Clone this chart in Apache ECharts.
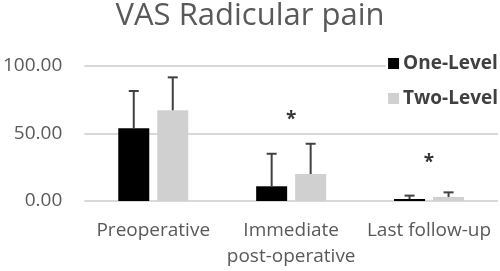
<!DOCTYPE html>
<html>
<head>
<meta charset="utf-8">
<script src="https://cdn.jsdelivr.net/npm/echarts@6/dist/echarts.min.js"></script>
<style>
  html, body { margin: 0; padding: 0; background: #fff; }
  #chart { width: 500px; height: 271px; }
</style>
</head>
<body>
<div id="chart"></div>
<script>
// data
const categories = ['Preoperative', 'Immediate\npost-operative', 'Last follow-up']
const seriesNames = ['One-Level', 'Two-Level']
const oneLevel = [53.8, 10.9, 1.5]
const twoLevel = [67.2, 20.0, 3.0]
// upper end of the error bars
const oneLevelErr = [81.5, 35.0, 4.0]
const twoLevelErr = [91.6, 42.4, 6.4]
// significance marks: [category index, value height]
const stars = [[1, 64.4], [2, 32.6]]
const yTicks = [0, 50, 100]

const BAR_W = 31
const BAR_GAP = 8
const TEXT = '#595959'
const FONT = 'Open Sans'

const chart = echarts.init(document.getElementById('chart'))

function errorSeries (name, means, tops, shift) {
  return {
    type: 'custom',
    name: name + ' err',
    silent: true,
    z: 5,
    data: means.map((m, i) => [i, m, tops[i]]),
    renderItem: function (params, api) {
      const base = api.coord([api.value(0), api.value(1)])
      const top = api.coord([api.value(0), api.value(2)])
      const x = base[0] + shift
      const style = { stroke: '#404040', lineWidth: 2 }
      return {
        type: 'group',
        children: [
          { type: 'line', shape: { x1: x, y1: base[1], x2: x, y2: top[1] }, style: style },
          { type: 'line', shape: { x1: x - 5, y1: top[1], x2: x + 5, y2: top[1] }, style: style }
        ]
      }
    }
  }
}

const shift = (BAR_W + BAR_GAP) / 2

const options = {
  animation: false,
  title: {
    text: 'VAS Radicular pain',
    left: 'center',
    top: -4,
    textStyle: { fontFamily: FONT, fontSize: 31, fontWeight: 'normal', color: TEXT }
  },
  legend: {
    data: seriesNames,
    orient: 'vertical',
    right: 0,
    top: 52,
    icon: 'rect',
    itemWidth: 11,
    itemHeight: 11,
    itemGap: 16,
    padding: [2, 2, 2, 2],
    backgroundColor: '#fff',
    textStyle: { fontFamily: FONT, fontSize: 19, fontWeight: 'bold', color: '#404040', padding: [0, 0, 0, -1] }
  },
  grid: { left: 84, right: 2, top: 66, bottom: 70 },
  xAxis: {
    type: 'category',
    data: categories,
    axisLine: { show: false },
    axisTick: { show: false },
    axisLabel: { interval: 0, fontFamily: FONT, fontSize: 19, color: TEXT, margin: 17, lineHeight: 26 }
  },
  yAxis: {
    type: 'value',
    min: yTicks[0],
    max: yTicks[yTicks.length - 1],
    interval: 50,
    axisLine: { show: false },
    axisTick: { show: false },
    splitLine: { lineStyle: { color: '#d9d9d9', width: 2 } },
    axisLabel: { fontFamily: FONT, fontSize: 19, color: TEXT, margin: 22, formatter: v => v.toFixed(2) }
  },
  series: [
    { name: seriesNames[0], type: 'bar', data: oneLevel, barWidth: BAR_W, barGap: (BAR_GAP / BAR_W * 100) + '%', itemStyle: { color: '#000' } },
    { name: seriesNames[1], type: 'bar', data: twoLevel, barWidth: BAR_W, itemStyle: { color: '#d0d0d0' } },
    errorSeries(seriesNames[0], oneLevel, oneLevelErr, -shift),
    errorSeries(seriesNames[1], twoLevel, twoLevelErr, shift),
    {
      type: 'scatter',
      name: 'sig',
      silent: true,
      symbolSize: 0,
      data: stars,
      label: { show: true, formatter: '*', position: 'inside', offset: [0, 6], fontFamily: FONT, fontSize: 19, fontWeight: 'bold', color: '#000' }
    }
  ]
}

chart.setOption(options)
</script>
</body>
</html>
